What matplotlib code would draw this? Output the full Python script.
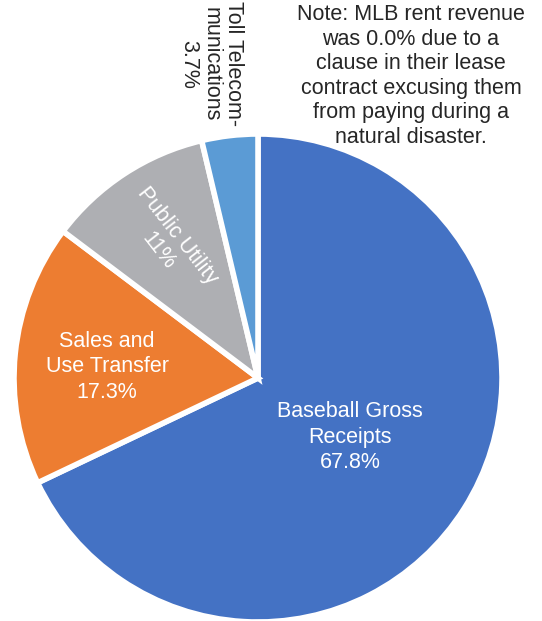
import matplotlib.pyplot as plt

plt.rcParams['font.family'] = ['Liberation Sans', 'DejaVu Sans']

labels = ['Baseball Gross\nReceipts\n67.8%', 'Sales and\nUse Transfer\n17.3%',
          'Public Utility\n11%', 'Toll Telecom-\nmunications\n3.7%']
values = [67.8, 17.3, 11.0, 3.7]
colors = ['#4472C4', '#ED7D31', '#AEAFB3', '#5B9BD5']
note = ('Note: MLB rent revenue\nwas 0.0% due to a\nclause in their lease\n'
        'contract excusing them\nfrom paying during a\nnatural disaster.')

W, H = 542, 621
fig = plt.figure(figsize=(W / 100, H / 100), dpi=100)
ax = fig.add_axes([0, 0, 1, 1])

cx, cy, r = 258, H - 378, 244
ax.pie(values, colors=colors, startangle=90, counterclock=False,
       center=(cx, cy), radius=r, frame=True,
       wedgeprops=dict(edgecolor='white', linewidth=4))
ax.set_xlim(0, W)
ax.set_ylim(0, H)
ax.axis('off')

fs = 15.5
ax.text(350, H - 437, labels[0], color='white', fontsize=fs, ha='center', va='center', linespacing=1.3)
ax.text(107, H - 367, labels[1], color='white', fontsize=fs, ha='center', va='center', linespacing=1.3)
ax.text(168, H - 243, labels[2], color='white', fontsize=fs, ha='center', va='center',
        rotation=-52, rotation_mode='anchor', linespacing=1.2)
ax.text(211, H - 64, labels[3], color='#262626', fontsize=fs, ha='center', va='center',
        rotation=-90, linespacing=1.1)
ax.text(411, H - 76, note, color='#262626', fontsize=fs, ha='center', va='center', linespacing=1.22)

fig.savefig('out.png', dpi=100)
